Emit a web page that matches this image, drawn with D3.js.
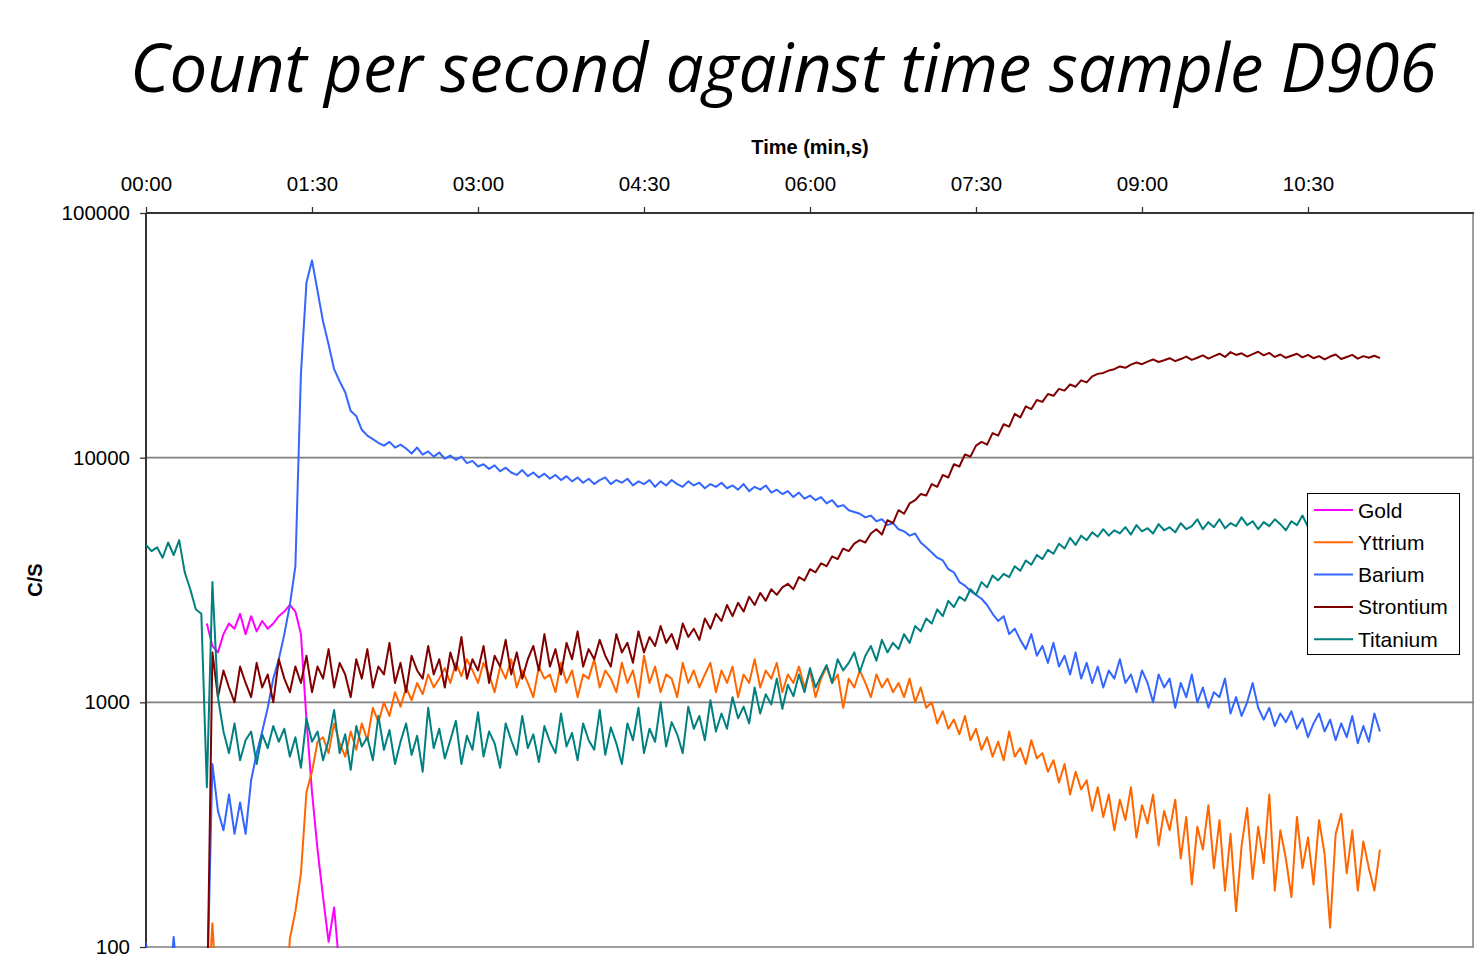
<!DOCTYPE html>
<html><head><meta charset="utf-8">
<script src="https://cdn.jsdelivr.net/npm/d3@7"></script>
<style>
body{margin:0;background:#fff}
svg{display:block}
text{font-family:"Liberation Sans",Arial,sans-serif;fill:#000}
</style>
</head><body>
<svg id="chart" width="1475" height="964"></svg>
<script>
// ---- data (counts per second, one reading every 3 s) ----
const sampleStep = 3;          // seconds between readings
const lateStart = 33;          // s, first reading for Gold / Yttrium / Strontium

const titanium = [4400,4150,4300,3900,4500,4000,4600,3400,2900,2400,2300,450,3100,1050,760,620,820,580,700,760,560,740,650,800,690,
780,600,720,540,860,690,760,580,700,930,620,740,530,800,660,720,580,880,640,770,560,690,820,610,730,520,950,650,780,590,
700,840,560,730,640,910,600,760,680,540,820,700,610,880,650,740,570,800,690,620,900,660,750,580,820,700,640,930,610,790,680,
560,820,700,950,620,780,690,1000,660,830,740,620,960,780,880,700,1020,760,900,
780,1050,860,960,820,1150,900,1080,980,1250,940,1180,1060,1300,1100,1380,1150,1280,
1420,1200,1500,1350,1450,1600,1330,1550,1700,1480,1800,1600,1750,1650,
1900,1750,2050,1950,2200,2100,2400,2250,2600,2450,2700,
2600,2900,2750,3100,2950,3300,3150,
3350,3250,3600,3450,3800,3650,4000,3850,
4200,4050,4450,4250,4700,4400,4800,
4600,4950,4750,5100,4800,5050,4900,
5200,4850,5300,5000,5150,4900,5350,5050,5200,4950,5400,5100,5250,5600,
5100,5450,5200,5600,5150,5400,5250,5700,5300,5500,5100,5450,5250,5600,5350,5050,5500,5300,5800,5200,
5400,5250,5500,5300,5600,5350,5450,5200,5500,5300,5600,5400,5450];

const barium = [104,70,60,60,60,110,60,60,60,60,60,60,
560,360,300,420,290,390,290,480,620,760,950,1250,1500,1900,2500,3600,22000,52000,64000,
48000,36000,29000,23000,20500,18500,15500,14800,13000,12300,11900,11500,11200,11600,11000,11300,10900,10400,11000,10300,
10600,10100,10500,9900,10200,9800,10100,9500,9700,9200,9400,9000,9300,8800,9100,8700,8500,8900,8400,8700,
8300,8600,8200,8500,8100,8400,8000,8300,7900,8200,7800,8100,8300,7800,8100,7900,8200,7700,8000,7800,
8100,7600,8000,7700,8100,7800,7600,8000,7700,7900,7500,7800,7600,7900,7500,7700,7400,7800,7300,7600,
7400,7700,7200,7400,7100,7300,6900,7200,6800,7000,6700,6900,6500,6700,6300,6400,6100,6000,5900,5700,
5800,5500,5600,5300,5400,5100,5000,4800,4900,4500,4300,4100,3900,3800,3500,3400,3100,3000,2850,2750,
2650,2500,2300,2150,2250,1900,2000,1800,1650,1900,1550,1700,1450,1750,1400,1550,1300,1600,1250,1450,
1200,1400,1150,1350,1250,1500,1200,1300,1100,1350,1200,1000,1300,1150,1250,950,1200,1050,1300,1000,
1150,950,1100,1050,1250,900,1050,880,1000,1200,950,850,950,800,900,830,920,780,860,720,
820,900,760,850,700,820,720,880,680,800,690,900,760];

const strontium = [50,
1600,1050,1350,1150,1000,1400,1200,1050,1450,1150,1300,1000,1500,1250,1100,1400,1200,1550,1100,
1400,1250,1650,1150,1450,1300,1050,1500,1250,1650,1150,1400,1300,1750,1200,1450,1100,1550,1350,1250,
1700,1300,1500,1150,1600,1350,1850,1250,1500,1350,1700,1200,1550,1400,1800,1300,1600,1250,1500,1700,
1350,1900,1400,1650,1300,1750,1500,1950,1400,1650,1500,1800,1550,1400,1900,1600,1750,1450,1950,1600,
1850,1700,2050,1750,1900,1650,2100,1850,2000,1800,2200,2000,2300,2150,2500,2250,2550,2350,2700,2500,
2800,2600,2900,2750,2950,3050,2900,3250,3150,3500,3400,3700,3600,3950,3850,4250,4150,4450,4600,4500,
4900,5100,4850,5550,5400,6100,5900,6500,6700,7100,7000,7800,7600,8500,8300,9400,9200,10300,10100,11200,
11600,11300,12600,12300,13700,13400,15100,14600,16200,15800,17200,16900,18200,17900,19100,18800,19900,19500,20700,20300,
21500,22000,22200,22700,23000,23600,23300,24000,24500,24100,24700,25200,24600,25000,25500,24800,25300,25900,25100,25600,
26200,25400,26000,26600,25800,27000,26300,26700,25900,26500,27100,26200,26800,25800,26400,25600,26100,26600,25700,26300,
25500,26000,25200,25900,26400,25300,25800,26300,25400,26000,25600,26100,25500];

const yttrium = [50,125,50,50,50,50,50,50,50,50,50,50,50,50,50,108,140,200,430,520,
690,720,620,820,680,600,760,640,820,700,950,830,1000,880,1100,960,1150,1020,1200,1080,
1300,1150,1250,1380,1200,1450,1280,1500,1350,1200,1450,1300,1100,1400,1250,1500,1150,1350,1200,1050,
1400,1250,1300,1100,1450,1200,1350,1050,1300,1250,1500,1150,1350,1250,1100,1450,1200,1350,1050,1550,
1200,1400,1100,1300,1250,1050,1450,1200,1350,1150,1300,1450,1100,1350,1200,1400,1050,1300,1200,1500,
1150,1350,1250,1450,1100,1300,1200,1400,1150,1350,1050,1250,1400,1200,1300,950,1250,1150,1350,1200,
1050,1300,1150,1250,1100,1200,1050,1250,1000,1150,950,1000,820,920,780,850,740,880,700,780,
640,720,600,690,580,760,600,650,560,700,590,620,520,580,470,560,420,520,440,480,
360,450,340,420,300,400,330,450,280,380,320,420,260,360,300,400,230,340,180,310,
250,380,210,330,170,290,140,260,370,190,310,220,420,170,300,230,160,340,210,280,
180,330,240,120,290,350,200,300,170,270,210,170,250];

const gold = [2100,1700,1600,1900,2100,2000,2300,1900,2250,1950,2150,2000,2100,2250,2350,2500,2350,1900,850,430,250,160,105,145,80];

const seriesNames  = ["Gold","Yttrium","Barium","Strontium","Titanium"];
const seriesValues = [gold, yttrium, barium, strontium, titanium];
const seriesStarts = [lateStart, lateStart, 0, lateStart, 0];
const seriesColors = ["#FF00FF","#FF6600","#3366FF","#800000","#008080"];

const xTickValues = [0,90,180,270,360,450,540,630];
const xTickLabels = ["00:00","01:30","03:00","04:30","06:00","07:30","09:00","10:30"];
const yTickValues = [100,1000,10000,100000];

// ---- layout ----
const svg = d3.select("#chart");
const L = 146, R = 1474, T = 213, B = 947;
const x = d3.scaleLinear().domain([0,720]).range([L,R]);
const y = d3.scaleLog().domain([100,100000]).range([B,T]);

// title
const title = svg.append("text")
  .attr("x", 130).attr("y", 92)
  .style("font-family", '"Open Sans","Noto Sans",sans-serif')
  .style("font-style","italic")
  .style("font-size","64px")
  .text("Count per second against time sample D906");
const tw = title.node().getComputedTextLength();
title.style("font-size", (64*1307/tw).toFixed(2)+"px");

// gridlines
svg.append("g").selectAll("line").data([1000,10000,100]).join("line")
  .attr("x1",L).attr("x2",R).attr("y1",d=>y(d)).attr("y2",d=>y(d))
  .attr("stroke","#808080").attr("stroke-width",1.6);
svg.append("line").attr("x1",R-1).attr("x2",R-1).attr("y1",T).attr("y2",B)
  .attr("stroke","#808080").attr("stroke-width",1.5);

// axes
const xAxis = d3.axisTop(x).tickValues(xTickValues)
  .tickFormat((d,i)=>xTickLabels[i]).tickSize(6).tickPadding(16);
const gx = svg.append("g").attr("transform",`translate(0,${T})`).call(xAxis);
const yAxis = d3.axisLeft(y).tickValues(yTickValues)
  .tickFormat(d3.format("d")).tickSize(6).tickPadding(10);
const gy = svg.append("g").attr("transform",`translate(${L},0)`).call(yAxis);
[gx,gy].forEach(g=>{
  g.select(".domain").attr("stroke","#333").attr("stroke-width",2);
  g.selectAll(".tick line").attr("stroke","#333").attr("stroke-width",1.3);
  g.selectAll(".tick text").style("font-family",'"Liberation Sans",Arial,sans-serif')
    .style("font-size","20.5px").attr("fill","#000");
});
gx.select(".domain").attr("d",`M${L},0H${R}`);
gy.select(".domain").attr("d",`M0,${T}V${B}`);

svg.append("text").attr("x",810).attr("y",154).attr("text-anchor","middle")
  .style("font-weight","bold").style("font-size","20px").text("Time (min,s)");
svg.append("text").attr("transform","translate(42,580) rotate(-90)")
  .attr("text-anchor","middle").style("font-weight","bold").style("font-size","20px").text("C/S");

// series
svg.append("clipPath").attr("id","plotclip").append("rect")
  .attr("x",L).attr("y",T).attr("width",R-L).attr("height",B-T+1);
const line = d3.line().x(d=>x(d.t)).y(d=>y(d.v));
const plot = svg.append("g").attr("clip-path","url(#plotclip)");
seriesNames.forEach((name,k)=>{
  const pts = seriesValues[k].map((v,i)=>({t: seriesStarts[k] + i*sampleStep, v}));
  plot.append("path").datum(pts).attr("d",line)
    .attr("fill","none").attr("stroke",seriesColors[k])
    .attr("stroke-width",2).attr("stroke-linejoin","round");
});

// legend
const lg = svg.append("g");
lg.append("rect").attr("x",1307.5).attr("y",493.5).attr("width",152).attr("height",161)
  .attr("fill","#fff").attr("stroke","#000").attr("stroke-width",1);
seriesNames.forEach((name,k)=>{
  const cy = 510 + k*32.3;
  lg.append("line").attr("x1",1314).attr("x2",1353).attr("y1",cy).attr("y2",cy)
    .attr("stroke",seriesColors[k]).attr("stroke-width",2);
  lg.append("text").attr("x",1358).attr("y",cy).attr("dy","0.36em")
    .style("font-size","21px").text(name);
});
</script>
</body></html>
